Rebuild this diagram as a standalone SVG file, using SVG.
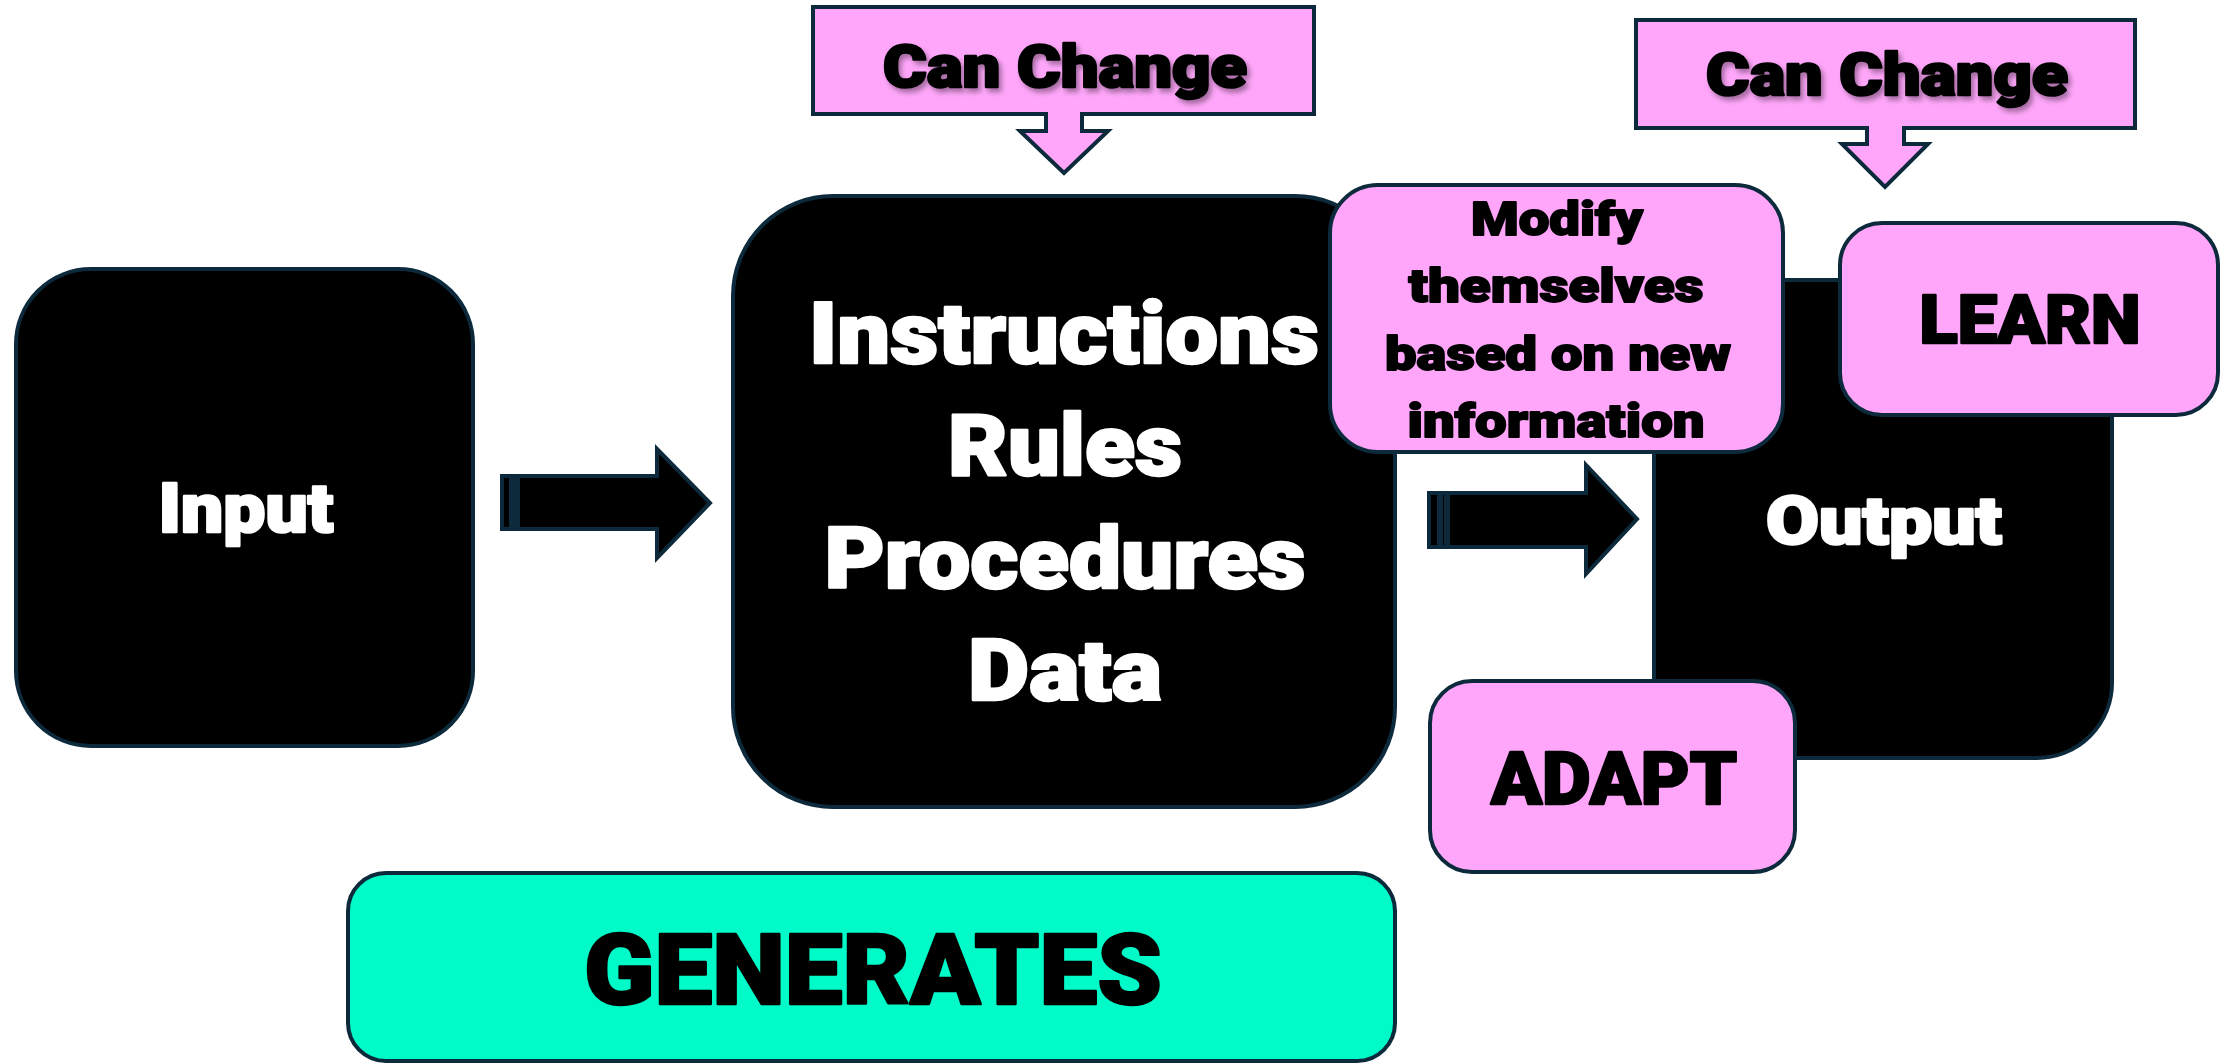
<svg xmlns="http://www.w3.org/2000/svg" width="2229" height="1064" viewBox="0 0 2229 1064">
<defs>
<style>
.blk{fill:#000;stroke:#0c2a3b;stroke-width:4}
.pink{fill:#ffa6fa;stroke:#0c2a3b;stroke-width:4}
.teal{fill:#00fac8;stroke:#0c2a3b;stroke-width:4}
.t{font-family:Roboto,"Liberation Sans",Arial,sans-serif;font-weight:900;text-anchor:middle;stroke-linejoin:round}
.w{fill:#fff;stroke:#fff;stroke-width:2.5}
.k{fill:#000;stroke:#000;stroke-width:2.5}
.k.s{stroke-width:1.8}
</style>
<filter id="sh" x="-10%" y="-30%" width="120%" height="160%">
<feDropShadow dx="3" dy="4" stdDeviation="2.5" flood-color="#000" flood-opacity="0.35"/>
</filter>
</defs>
<rect width="2229" height="1064" fill="#fff"/>

<g id="input">
<rect class="blk" x="16" y="269" width="457" height="477" rx="75" ry="75"/>
<text class="t w" x="246" y="532" font-size="68" textLength="175" lengthAdjust="spacingAndGlyphs">Input</text>
</g>

<g id="output">
<rect class="blk" x="1654" y="280" width="458" height="478" rx="75" ry="75"/>
<text class="t w" x="1884" y="544" font-size="66" textLength="236" lengthAdjust="spacingAndGlyphs">Output</text>
</g>

<g id="connectors">
<g id="arrow1">
<rect class="blk" x="502" y="476" width="9" height="53" stroke-width="3"/>
<rect class="blk" x="512" y="476" width="4" height="53" stroke-width="3"/>
<polygon class="blk" points="518,476 657,476 657,449 710,503 657,558 657,529 518,529" stroke-width="3"/>
</g>
<g id="arrow2">
<rect class="blk" x="1429" y="493" width="10" height="54" stroke-width="3"/>
<rect class="blk" x="1441" y="493" width="5" height="54" stroke-width="3"/>
<polygon class="blk" points="1448,493 1586,493 1586,465 1637,519 1586,574 1586,547 1448,547" stroke-width="3"/>
</g>
</g>

<g id="core">
<rect class="blk" x="733" y="196" width="662" height="611" rx="100" ry="100"/>
<text class="t w" x="1064" y="363" font-size="86" textLength="510" lengthAdjust="spacingAndGlyphs">Instructions</text>
<text class="t w" x="1065" y="475" font-size="86" textLength="234" lengthAdjust="spacingAndGlyphs">Rules</text>
<text class="t w" x="1065" y="588" font-size="86" textLength="481" lengthAdjust="spacingAndGlyphs">Procedures</text>
<text class="t w" x="1065" y="700" font-size="86" textLength="194" lengthAdjust="spacingAndGlyphs">Data</text>
</g>

<g id="modify">
<rect class="pink" x="1330" y="185" width="453" height="267" rx="48" ry="48"/>
<text class="t k s" x="1557" y="235" font-size="46" textLength="172" lengthAdjust="spacingAndGlyphs">Modify</text>
<text class="t k s" x="1556" y="302" font-size="46" textLength="295" lengthAdjust="spacingAndGlyphs">themselves</text>
<text class="t k s" x="1558" y="370" font-size="46" textLength="346" lengthAdjust="spacingAndGlyphs">based on new</text>
<text class="t k s" x="1556" y="437" font-size="46" textLength="297" lengthAdjust="spacingAndGlyphs">information</text>
</g>

<g id="learn">
<rect class="pink" x="1840" y="223" width="378" height="192" rx="42" ry="42"/>
<text class="t k" x="2030" y="343" font-size="67" textLength="221" lengthAdjust="spacingAndGlyphs">LEARN</text>
</g>

<g id="adapt">
<rect class="pink" x="1430" y="681" width="365" height="191" rx="42" ry="42"/>
<text class="t k" x="1614" y="804" font-size="73" textLength="246" lengthAdjust="spacingAndGlyphs">ADAPT</text>
</g>

<g id="generates">
<rect class="teal" x="348" y="873" width="1047" height="188" rx="38" ry="38"/>
<text class="t k" x="873" y="1004" font-size="98" textLength="578" lengthAdjust="spacingAndGlyphs" stroke-width="3">GENERATES</text>
</g>

<g id="canchange1">
<polygon class="pink" points="813,7 1314,7 1314,114 1082,114 1082,131 1108,131 1064,173 1020,131 1046,131 1046,114 813,114"/>
<text class="t k" x="1065" y="87" font-size="59" textLength="364" lengthAdjust="spacingAndGlyphs" filter="url(#sh)">Can Change</text>
</g>

<g id="canchange2">
<polygon class="pink" points="1636,20 2135,20 2135,128 1904,128 1904,144 1928,144 1885,187 1842,144 1867,144 1867,128 1636,128"/>
<text class="t k" x="1887" y="95" font-size="59" textLength="362" lengthAdjust="spacingAndGlyphs" filter="url(#sh)">Can Change</text>
</g>
</svg>
